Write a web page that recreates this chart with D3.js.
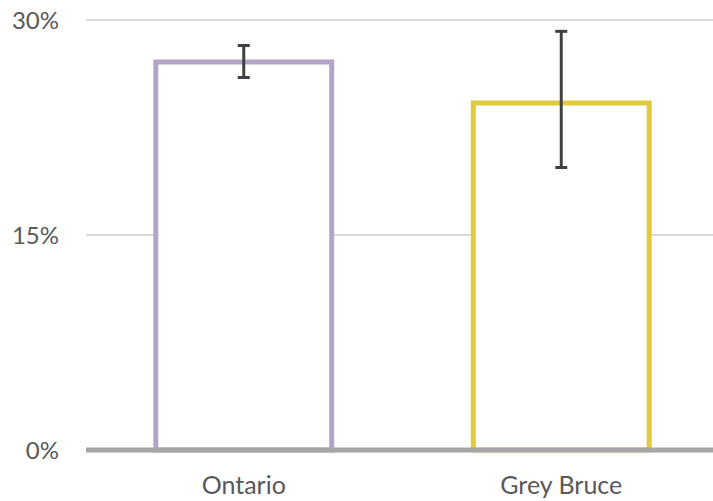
<!DOCTYPE html>
<html>
<head>
<meta charset="utf-8">
<script src="https://cdn.jsdelivr.net/npm/d3@7"></script>
<style>
  html, body { margin: 0; padding: 0; background: #fff; }
  text { font-family: Lato, "Open Sans", sans-serif; fill: #595959; }
</style>
</head>
<body>
<svg id="chart" width="713" height="501"></svg>
<script>
const categories = ["Ontario", "Grey Bruce"];
const values = [27.07, 24.21];
const errLow = [25.99, 19.71];
const errHigh = [28.22, 29.21];
const barColors = ["#b4a5c8", "#e1ca3e"];
const yTicks = [0, 15, 30];

const svg = d3.select("#chart");
const plotLeft = 85, plotRight = 720, plotTop = 20, plotBottom = 450;

const x = d3.scaleBand().domain(categories).range([plotLeft, plotRight])
  .paddingInner(0.446).paddingOuter(0.223);
const y = d3.scaleLinear().domain([0, 30]).range([plotBottom, plotTop]);

// gridlines
svg.append("g").selectAll("line").data(yTicks.filter(d => d > 0)).join("line")
  .attr("x1", plotLeft + 1).attr("x2", plotRight)
  .attr("y1", d => y(d)).attr("y2", d => y(d))
  .attr("stroke", "#d9d9d9").attr("stroke-width", 2);

// y tick labels
const yAxis = d3.axisLeft(y).tickValues(yTicks).tickFormat(d => d + "%").tickSize(0).tickPadding(0);
const ya = svg.append("g").attr("transform", `translate(59,0)`).call(yAxis);
ya.select(".domain").remove();
ya.selectAll("text").style("font-size", "24px").attr("fill", "#595959")
  .attr("font-family", "Lato, 'Open Sans', sans-serif").attr("dy", "0.35em");

// bars
svg.append("g").selectAll("rect").data(categories).join("rect")
  .attr("x", d => x(d))
  .attr("width", x.bandwidth())
  .attr("y", (d, i) => y(values[i]))
  .attr("height", (d, i) => y(0) - y(values[i]))
  .attr("fill", "#ffffff")
  .attr("stroke", (d, i) => barColors[i])
  .attr("stroke-width", 5);

// x axis line
svg.append("line")
  .attr("x1", plotLeft + 1).attr("x2", plotRight)
  .attr("y1", y(0)).attr("y2", y(0))
  .attr("stroke", "#a6a6a6").attr("stroke-width", 5);

// error bars
const eb = svg.append("g").attr("stroke", "#404040").attr("stroke-width", 3);
categories.forEach((c, i) => {
  const cx = x(c) + x.bandwidth() / 2;
  eb.append("line").attr("x1", cx).attr("x2", cx)
    .attr("y1", y(errHigh[i])).attr("y2", y(errLow[i]));
  eb.append("line").attr("x1", cx - 6).attr("x2", cx + 6)
    .attr("y1", y(errHigh[i])).attr("y2", y(errHigh[i]));
  eb.append("line").attr("x1", cx - 6).attr("x2", cx + 6)
    .attr("y1", y(errLow[i])).attr("y2", y(errLow[i]));
});

// x labels
const xAxis = d3.axisBottom(x).tickSize(0).tickPadding(0);
const xa = svg.append("g").attr("transform", `translate(0,494)`).call(xAxis);
xa.select(".domain").remove();
xa.selectAll("text").style("font-size", "25px").attr("fill", "#595959")
  .attr("font-family", "Lato, 'Open Sans', sans-serif").attr("dy", "0");
</script>
</body>
</html>
